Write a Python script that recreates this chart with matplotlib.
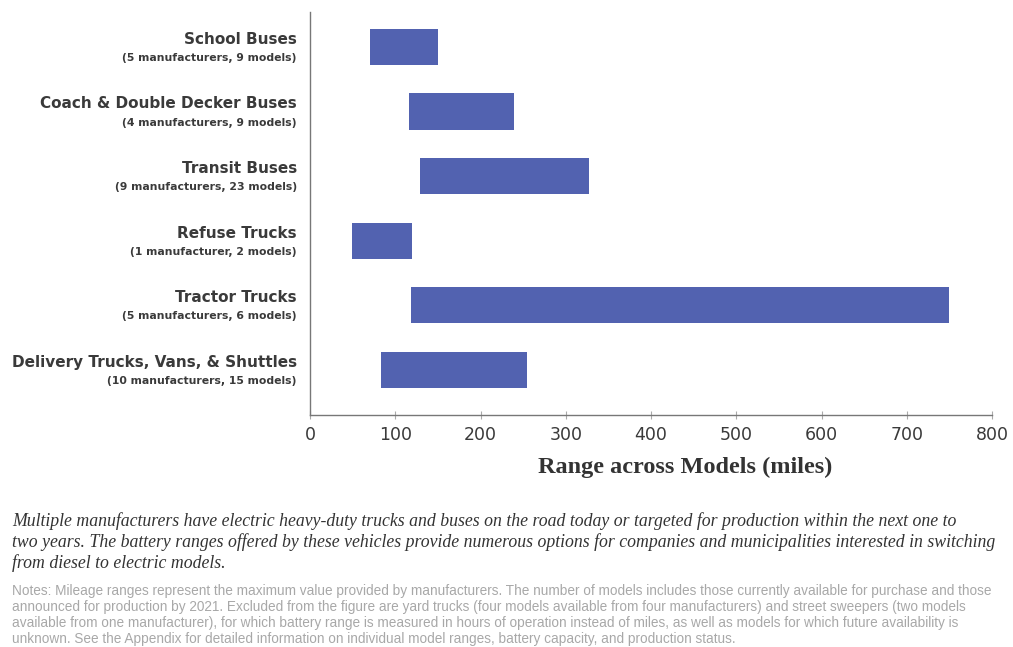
import matplotlib
matplotlib.use("Agg")
import matplotlib.pyplot as plt

categories = ["School Buses", "Coach & Double Decker Buses", "Transit Buses",
              "Refuse Trucks", "Tractor Trucks", "Delivery Trucks, Vans, & Shuttles"]
subtitles = ["(5 manufacturers, 9 models)", "(4 manufacturers, 9 models)",
             "(9 manufacturers, 23 models)", "(1 manufacturer, 2 models)",
             "(5 manufacturers, 6 models)", "(10 manufacturers, 15 models)"]
range_min = [70, 116, 129, 49, 119, 83]
range_max = [150, 239, 327, 120, 750, 254]
xticks = [0, 100, 200, 300, 400, 500, 600, 700, 800]

caption = ("Multiple manufacturers have electric heavy-duty trucks and buses on the road today or targeted for production within the next one to\n"
           "two years. The battery ranges offered by these vehicles provide numerous options for companies and municipalities interested in switching\n"
           "from diesel to electric models.")
notes = ("Notes: Mileage ranges represent the maximum value provided by manufacturers. The number of models includes those currently available for purchase and those\n"
         "announced for production by 2021. Excluded from the figure are yard trucks (four models available from four manufacturers) and street sweepers (two models\n"
         "available from one manufacturer), for which battery range is measured in hours of operation instead of miles, as well as models for which future availability is\n"
         "unknown. See the Appendix for detailed information on individual model ranges, battery capacity, and production status.")

W, H = 1013, 647
fig = plt.figure(figsize=(W / 100, H / 100), dpi=100)
ax = fig.add_axes([310 / W, 1 - 415 / H, (992 - 310) / W, (415 - 12) / H])

ypos = list(range(len(categories)))
widths = [b - a for a, b in zip(range_min, range_max)]
ax.barh(ypos, widths, left=range_min, height=0.56, color="#5262B0")

ax.set_xlim(0, 800)
ax.set_ylim(5.7, -0.54)
ax.set_xticks(xticks)
ax.set_xticklabels([str(t) for t in xticks], fontsize=12.5, color="#3a3a3a", family="DejaVu Sans")
ax.set_yticks([])
for s in ["top", "right"]:
    ax.spines[s].set_visible(False)
for s in ["left", "bottom"]:
    ax.spines[s].set_color("#777777")
    ax.spines[s].set_linewidth(1.0)
ax.tick_params(axis="x", direction="inout", length=6, color="#aaaaaa", pad=5)

for y, cat, sub in zip(ypos, categories, subtitles):
    ax.annotate(cat, xy=(0, y), xycoords=("axes fraction", "data"), xytext=(-9.5, 0),
                textcoords="offset points", ha="right", va="bottom",
                fontsize=11, fontweight="bold", color="#3a3a3a", family="DejaVu Sans")
    ax.annotate(sub, xy=(0, y), xycoords=("axes fraction", "data"), xytext=(-9.5, -4.5),
                textcoords="offset points", ha="right", va="top",
                fontsize=7.8, fontweight="bold", color="#3a3a3a", family="DejaVu Sans")

fig.text(685 / W, 1 - 467 / H, "Range across Models (miles)", ha="center", va="center",
         fontsize=17.5, fontweight="bold", color="#333333", family="Liberation Serif")

fig.text(12 / W, 1 - 512 / H, caption, ha="left", va="top", fontsize=12.75,
         style="italic", color="#333333", family="Liberation Serif", linespacing=1.22)
fig.text(12 / W, 1 - 584 / H, notes, ha="left", va="top", fontsize=9.8,
         color="#a8a8a8", family="Liberation Sans", linespacing=1.18)

fig.savefig("out.png", dpi=100)
